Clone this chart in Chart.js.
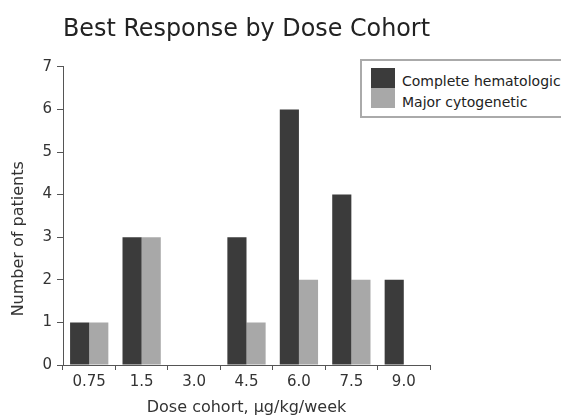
<!DOCTYPE html>
<html lang="en">
<head>
    <meta charset="UTF-8">
    <script src="https://cdn.jsdelivr.net/npm/chart.js"></script>
    <title>Best Response by Dose Cohort</title>
    <style>
        html, body{margin: 0; padding: 0; background: #fff; overflow: hidden;}
        #wrap{position: relative; width: 561px; height: 418px;}
        #legend{position: absolute; left: 360px; top: 59px; width: 230px; height: 55px;
            border: 2px solid #aaa; background: #fff; font-family: "DejaVu Sans", sans-serif;
            font-size: 14px; color: #222; white-space: nowrap;}
        #legend .sw{position: absolute; left: 9px; width: 24px; height: 20px;}
        #legend .txt{position: absolute; left: 40px; height: 20px; line-height: 20px;}
    </style>
    <script>
        // values
        const doseLabels = ["0.75", "1.5", "3.0", "4.5", "6.0", "7.5", "9.0"];
        const seriesNames = ["Complete hematologic", "Major cytogenetic"];
        const completeHem = [1, 3, 0, 3, 6, 4, 2];
        const majorCyto = [1, 3, 0, 1, 2, 2, 0];
        const yTicks = [0, 1, 2, 3, 4, 5, 6, 7];
        const barColors = ["#3b3b3b", "#a8a8a8"];

        window.onload = function(){
            const font = "DejaVu Sans";
            const ctx = document.getElementById('myChart');
            const chart = new Chart(ctx, {
                type: 'bar',
                data: {
                    labels: doseLabels,
                    datasets: [{
                        label: seriesNames[0],
                        data: completeHem,
                        backgroundColor: barColors[0]
                    },{
                        label: seriesNames[1],
                        data: majorCyto,
                        backgroundColor: barColors[1]
                    }]
                },
                options: {
                    responsive: false,
                    animation: false,
                    layout: {padding: {left: 0, right: 131, top: 0, bottom: 0}},
                    datasets: {bar: {categoryPercentage: 0.73, barPercentage: 1.0, borderWidth: 0}},
                    plugins: {
                        legend: {display: false},
                        tooltip: {enabled: false},
                        title: {
                            display: true,
                            text: "Best Response by Dose Cohort",
                            fullSize: false,
                            color: "#222",
                            font: {family: font, size: 24, weight: 'normal'},
                            padding: {top: 15, bottom: 23}
                        }
                    },
                    scales: {
                        x: {
                            afterFit: function(s){ s.height = 53; },
                            border: {display: true, color: "#555", width: 1},
                            grid: {display: true, drawOnChartArea: false, drawTicks: true, tickLength: 5, color: "#555"},
                            ticks: {color: "#333", padding: 3, font: {family: font, size: 15}},
                            title: {display: true, text: "Dose cohort, µg/kg/week", color: "#333",
                                padding: {top: 0, bottom: 1}, font: {family: font, size: 16}}
                        },
                        y: {
                            min: 0, max: 7,
                            afterFit: function(s){ s.width = 63; },
                            afterBuildTicks: function(s){ s.ticks = yTicks.map(v => ({value: v})); },
                            border: {display: true, color: "#555", width: 1},
                            grid: {display: true, drawOnChartArea: false, drawTicks: true, tickLength: 6, color: "#555"},
                            ticks: {color: "#333", padding: 5, font: {family: font, size: 15}},
                            // trailing spaces move the centred title a little toward the bottom, as in the picture
                            title: {display: true, text: "Number of patients         ", color: "#333",
                                padding: {top: 9, bottom: 0}, font: {family: font, size: 16}}
                        }
                    }
                }
            });

            // legend from the dataset names and colours
            const lg = document.getElementById('legend');
            chart.data.datasets.forEach(function(ds, i){
                const sw = document.createElement('span');
                sw.className = 'sw';
                sw.style.top = (7 + i * 20) + 'px';
                sw.style.background = ds.backgroundColor;
                const tx = document.createElement('span');
                tx.className = 'txt';
                tx.style.top = (10 + i * 21) + 'px';
                tx.textContent = ds.label;
                lg.appendChild(sw);
                lg.appendChild(tx);
            });
        };
    </script>
</head>
<body>
    <div id="wrap">
        <canvas id="myChart" width="561" height="418"></canvas>
        <div id="legend"></div>
    </div>
</body>
</html>
